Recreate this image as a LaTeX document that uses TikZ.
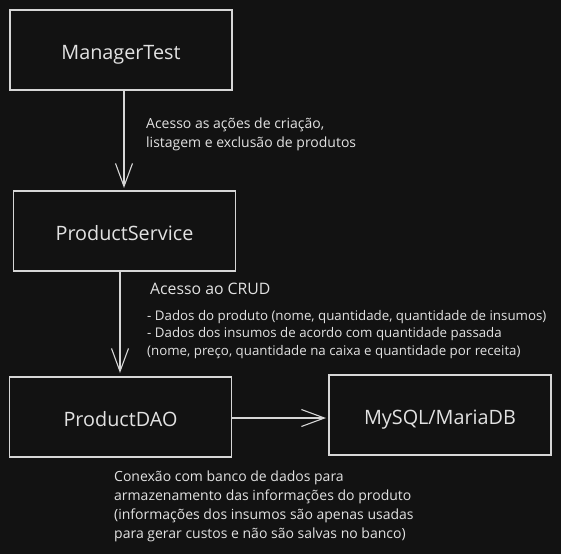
\documentclass[tikz,border=0pt]{standalone}
\usepackage{fontspec}
\setmainfont{Open Sans}
\usetikzlibrary{arrows.meta}
\definecolor{bg}{HTML}{121212}
\definecolor{ink}{HTML}{D6D6D6}
\definecolor{txt}{HTML}{E2E2E2}
\tikzset{
  box/.style={draw=ink, line width=1.3pt, minimum width=222pt, minimum height=80pt, inner sep=0pt, font=\fontsize{19.8}{24}\selectfont, text=txt, text height=18pt, text depth=0pt},
  conn/.style={draw=ink, line width=1.1pt, -{Straight Barb[length=23pt, width=17pt, line width=1.1pt]}},
  note/.style={text=txt, font=\fontsize{14}{19}\selectfont, align=left, anchor=north west, inner sep=0pt}
}
\begin{document}
\begin{tikzpicture}[x=1pt,y=-1pt]
\fill[bg] (0,0) rectangle (561,554);
\useasboundingbox (0,0) rectangle (561,554);
\node[box] (mt) at (121,50) {ManagerTest};
\node[box] (ps) at (124.5,231) {ProductService};
\node[box] (dao) at (120.5,417) {ProductDAO};
\node[box] (db) at (440,415) {MySQL/MariaDB};
\draw[conn] (mt.south -| 124,0) -- (124,188);
\draw[conn] (ps.south -| 120,0) -- (120,373);
\draw[conn] (dao.east |- 0,418) -- (326,418);
\node[note] (l1) at (146,118) {Acesso as ações de criação,\\listagem e exclusão de produtos};
\node[note, font=\fontsize{15.8}{19}\selectfont] (l2) at (150,283) {Acesso ao CRUD};
\node[note, font=\fontsize{13.3}{17.5}\selectfont] (l3) at (147,310) {- Dados do produto (nome, quantidade, quantidade de insumos)\\- Dados dos insumos de acordo com quantidade passada\\(nome, preço, quantidade na caixa e quantidade por receita)};
\node[note] (l4) at (114,471) {Conexão com banco de dados para\\armazenamento das informações do produto\\(informações dos insumos são apenas usadas\\para gerar custos e não são salvas no banco)};
\end{tikzpicture}
\end{document}
